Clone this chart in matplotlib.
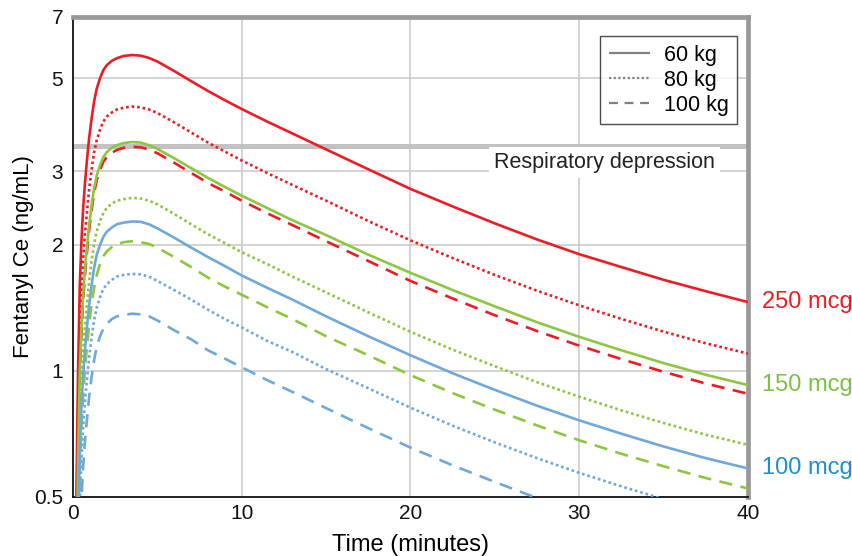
import matplotlib
matplotlib.use("Agg")
import matplotlib.pyplot as plt
from matplotlib.ticker import FixedLocator, NullLocator, FixedFormatter
from matplotlib.lines import Line2D

plt.rcParams['font.family'] = ['Liberation Sans', 'DejaVu Sans']

# ---- data ----
time_min = [0.1, 0.2, 0.3, 0.4, 0.5, 0.6, 0.7, 0.8, 0.95, 1.1, 1.25, 1.4, 1.6, 1.8,
            2.0, 2.3, 2.6, 3.0, 3.5, 4.0, 4.5, 5.0, 6.0, 7.0, 8.0, 9.0, 10, 11.5, 13,
            15, 17.5, 20, 22.5, 25, 27.5, 30, 32.5, 35, 37.5, 40]

r60 = [0.17, 0.50, 1.00, 1.59, 2.04, 2.44, 2.78, 3.10, 3.58, 4.00, 4.40, 4.71, 5.00, 5.23,
       5.37, 5.50, 5.58, 5.65, 5.68, 5.66, 5.59, 5.48, 5.20, 4.92, 4.66, 4.43, 4.22, 3.94, 3.69,
       3.38, 3.03, 2.72, 2.47, 2.25, 2.06, 1.90, 1.77, 1.65, 1.55, 1.46]
r80 = [0.128, 0.377, 0.753, 1.20, 1.54, 1.84, 2.10, 2.33, 2.70, 3.02, 3.32, 3.55, 3.77, 3.94,
       4.05, 4.14, 4.21, 4.25, 4.28, 4.26, 4.21, 4.13, 3.92, 3.71, 3.51, 3.34, 3.18, 2.97, 2.78,
       2.55, 2.28, 2.05, 1.86, 1.695, 1.554, 1.434, 1.331, 1.241, 1.164, 1.10]
r100 = [0.103, 0.302, 0.604, 0.96, 1.235, 1.475, 1.68, 1.87, 2.16, 2.42, 2.66, 2.85, 3.02, 3.16,
        3.24, 3.32, 3.37, 3.41, 3.43, 3.42, 3.38, 3.31, 3.14, 2.97, 2.81, 2.68, 2.55, 2.38, 2.23,
        2.04, 1.83, 1.64, 1.489, 1.358, 1.245, 1.149, 1.067, 0.995, 0.933, 0.882]
g60 = [0.106, 0.31, 0.62, 0.986, 1.27, 1.51, 1.73, 1.92, 2.22, 2.48, 2.73, 2.92, 3.10, 3.24,
       3.33, 3.41, 3.46, 3.50, 3.52, 3.51, 3.46, 3.39, 3.22, 3.05, 2.89, 2.75, 2.62, 2.45, 2.29,
       2.11, 1.895, 1.715, 1.56, 1.426, 1.307, 1.206, 1.12, 1.044, 0.979, 0.925]
g80 = [0.078, 0.228, 0.456, 0.725, 0.932, 1.11, 1.27, 1.41, 1.63, 1.83, 2.01, 2.15, 2.28, 2.38,
       2.45, 2.51, 2.55, 2.57, 2.59, 2.58, 2.55, 2.50, 2.37, 2.24, 2.12, 2.02, 1.92, 1.80, 1.68,
       1.54, 1.38, 1.24, 1.124, 1.026, 0.94, 0.868, 0.805, 0.751, 0.704, 0.666]
g100 = [0.061, 0.18, 0.359, 0.571, 0.734, 0.877, 1.00, 1.11, 1.285, 1.44, 1.58, 1.69, 1.80, 1.88,
        1.93, 1.975, 2.005, 2.03, 2.04, 2.03, 2.01, 1.97, 1.87, 1.77, 1.67, 1.59, 1.52, 1.42, 1.33,
        1.21, 1.09, 0.977, 0.885, 0.808, 0.741, 0.683, 0.634, 0.592, 0.555, 0.524]
b60 = [0.068, 0.20, 0.40, 0.637, 0.819, 0.978, 1.115, 1.24, 1.43, 1.60, 1.76, 1.89, 2.00, 2.09,
       2.15, 2.20, 2.24, 2.26, 2.275, 2.27, 2.24, 2.19, 2.08, 1.97, 1.87, 1.78, 1.69, 1.58, 1.48,
       1.35, 1.21, 1.09, 0.987, 0.901, 0.826, 0.762, 0.708, 0.66, 0.619, 0.585]
b80 = [0.051, 0.15, 0.30, 0.477, 0.614, 0.733, 0.835, 0.929, 1.07, 1.20, 1.32, 1.415, 1.50, 1.57,
       1.61, 1.65, 1.68, 1.695, 1.705, 1.70, 1.68, 1.64, 1.56, 1.48, 1.40, 1.33, 1.27, 1.18, 1.11,
       1.01, 0.909, 0.817, 0.74, 0.675, 0.619, 0.571, 0.53, 0.494, 0.464, 0.438]
b100 = [0.041, 0.121, 0.241, 0.384, 0.493, 0.589, 0.671, 0.747, 0.863, 0.966, 1.06, 1.14, 1.21, 1.26,
        1.295, 1.33, 1.35, 1.36, 1.37, 1.365, 1.35, 1.32, 1.25, 1.19, 1.12, 1.07, 1.02, 0.951, 0.891,
        0.815, 0.73, 0.656, 0.595, 0.543, 0.497, 0.459, 0.426, 0.397, 0.373, 0.352]

resp_depression = 3.45
dose_labels = ["250 mcg", "150 mcg", "100 mcg"]
weight_labels = ["60 kg", "80 kg", "100 kg"]
y_ticks = [0.5, 1, 2, 3, 5, 7]
y_tick_labels = ["0.5", "1", "2", "3", "5", "7"]
x_ticks = [0, 10, 20, 30, 40]

# ---- style ----
RED = "#ED1C24"
GREEN = "#8DC63F"
BLUE = "#6FA8DC"
LABEL_BLUE = "#1C8FD3"
LABEL_GREEN = "#7DC142"
LW = 1.9
SOLID = (0, ())
DOT = (0, (1.0, 1.1))
DASH = (0, (5.0, 3.2))

fig = plt.figure(figsize=(8.53, 5.56), dpi=100)
ax = fig.add_axes([73 / 853, 1 - 497 / 556, (748 - 73) / 853, (497 - 17) / 556])

ax.set_yscale("log")
ax.set_xlim(0, 40)
ax.set_ylim(0.5, 7)

# grid
for xv in [10, 20, 30]:
    ax.axvline(xv, color="#c8c8c8", lw=1.1, zorder=0.5)
for yv in [1, 2, 3, 5]:
    ax.axhline(yv, color="#c8c8c8", lw=1.1, zorder=0.5)

# respiratory depression threshold
ax.axhline(resp_depression, color="#c2c2c2", lw=3.6, zorder=1)
ax.text(38.05, 3.14, "Respiratory depression", ha="right", va="center",
        fontsize=15.5, color="#222222", zorder=1.5,
        bbox=dict(facecolor="white", edgecolor="none", pad=3.5))

series = [
    (r60, RED, SOLID), (r80, RED, DOT), (r100, RED, DASH),
    (g60, GREEN, SOLID), (g80, GREEN, DOT), (g100, GREEN, DASH),
    (b60, BLUE, SOLID), (b80, BLUE, DOT), (b100, BLUE, DASH),
]
for vals, col, ls in series:
    ax.plot(time_min, vals, color=col, lw=LW, linestyle=ls, zorder=3,
            solid_capstyle="butt", dash_capstyle="butt", solid_joinstyle="round")

# dose labels at right
for vals, lab, col in [(r60, dose_labels[0], RED), (g60, dose_labels[1], LABEL_GREEN),
                       (b60, dose_labels[2], LABEL_BLUE)]:
    ax.annotate(lab, xy=(40, vals[-1]), xytext=(10, 0), textcoords="offset points",
                ha="left", va="center", fontsize=17, color=col, annotation_clip=False)

# spines
for s in ["left", "bottom"]:
    ax.spines[s].set_color("#111111")
    ax.spines[s].set_linewidth(1.3)
for s in ["top", "right"]:
    ax.spines[s].set_color("#999999")
    ax.spines[s].set_linewidth(3.4)

ax.yaxis.set_major_locator(FixedLocator(y_ticks))
ax.yaxis.set_major_formatter(FixedFormatter(y_tick_labels))
ax.yaxis.set_minor_locator(NullLocator())
ax.xaxis.set_major_locator(FixedLocator(x_ticks))
ax.tick_params(axis="both", length=0, labelsize=15, colors="#111111")
ax.tick_params(axis="y", pad=7)
ax.tick_params(axis="x", pad=5)

ax.set_xlabel("Time (minutes)", fontsize=17, labelpad=8)
ax.set_ylabel("Fentanyl Ce (ng/mL)", fontsize=16, labelpad=0)

# legend
handles = [Line2D([], [], color="#808080", lw=1.6, linestyle=SOLID),
           Line2D([], [], color="#808080", lw=1.6, linestyle=DOT),
           Line2D([], [], color="#808080", lw=1.6, linestyle=(0, (4, 3)))]
leg = ax.legend(handles, weight_labels, loc="upper right", bbox_to_anchor=(0.984, 0.96),
                fontsize=15.5, frameon=True, fancybox=False, handlelength=1.9,
                handletextpad=0.65, labelspacing=0.18, borderpad=0.4, borderaxespad=0)
leg.get_frame().set_edgecolor("#222222")
leg.get_frame().set_linewidth(1.0)

fig.savefig("out.png", dpi=100)
